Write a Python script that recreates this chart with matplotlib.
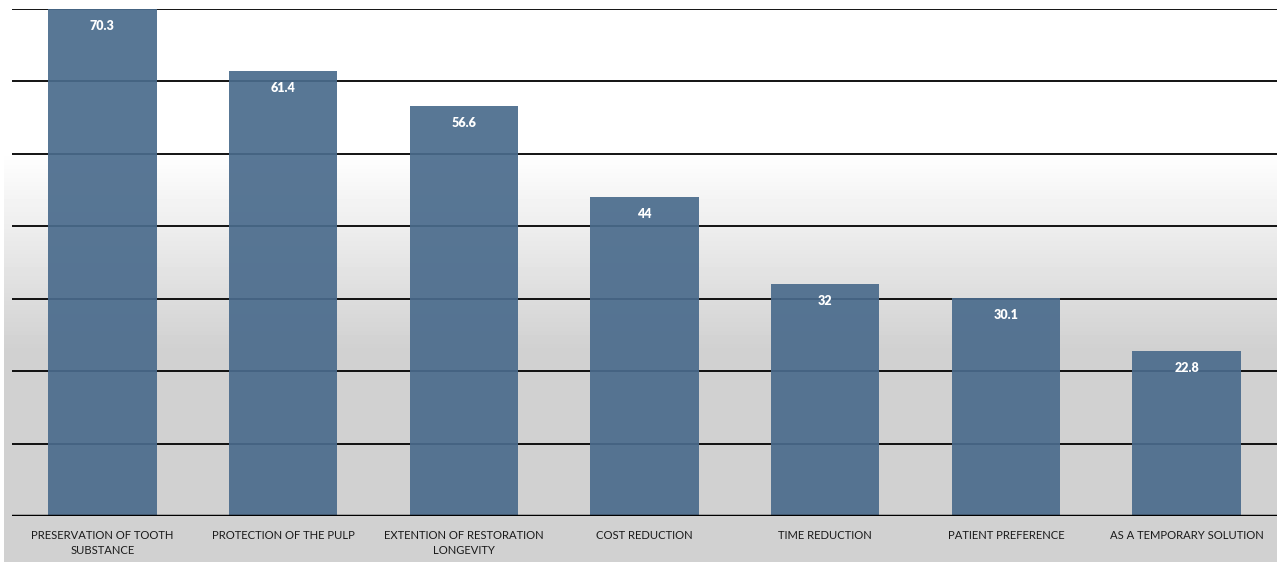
import numpy as np
import matplotlib.pyplot as plt

#Data
categories = ["PRESERVATION OF TOOTH\nSUBSTANCE", "PROTECTION OF THE PULP",
              "EXTENTION OF RESTORATION\nLONGEVITY", "COST REDUCTION",
              "TIME REDUCTION", "PATIENT PREFERENCE", "AS A TEMPORARY SOLUTION"]
values = [70.3, 61.4, 56.6, 44, 32, 30.1, 22.8]
ymax = 70

plt.rcParams['font.family'] = ['Lato', 'DejaVu Sans']

fig = plt.figure(figsize=(12.77, 5.62), dpi=100)

#Background gradient (white at top -> light gray at bottom)
bg = fig.add_axes([4 / 1277, 0, 1 - 4 / 1277, 1], zorder=0)
rows = np.linspace(1, 0, 562)
shade = np.clip((rows - 0.38) / (0.73 - 0.38), 0, 1)
levels = 0.82 + (1.0 - 0.82) * shade
grad = np.repeat(levels[:, None], 2, axis=1)
bg.imshow(grad, cmap='gray', vmin=0, vmax=1, aspect='auto', extent=[0, 1, 0, 1])
bg.axis('off')

#Main axes
ax = fig.add_axes([12 / 1277, 1 - 516 / 562, 1 - 12 / 1277, (516 - 9) / 562], zorder=1)
ax.patch.set_alpha(0)

x = np.arange(len(categories))
ax.bar(x, values, width=0.6, color='#4a6b8c', alpha=0.92, zorder=3)

#Gridlines
for yv in range(10, ymax + 1, 10):
    ax.axhline(yv, color='black', lw=1.3, zorder=2)
ax.axhline(0, color='black', lw=2.5, zorder=4)

#Value labels near top of each bar
for xi, v in zip(x, values):
    top = min(v, ymax)
    ax.annotate(f"{v:g}", (xi, top), xytext=(0, -12), textcoords='offset points',
                ha='center', va='center', color='white', fontsize=9,
                fontweight='heavy', zorder=5)

ax.set_xlim(-0.5, len(categories) - 0.5)
ax.set_ylim(0, ymax)
ax.set_xticks(x)
ax.set_xticklabels(categories, fontsize=8.1, color='#1a1a1a', va='top', linespacing=1.45)
ax.tick_params(axis='x', length=0, pad=10)
ax.set_yticks([])
for s in ax.spines.values():
    s.set_visible(False)

plt.savefig("out.png", dpi=100)
